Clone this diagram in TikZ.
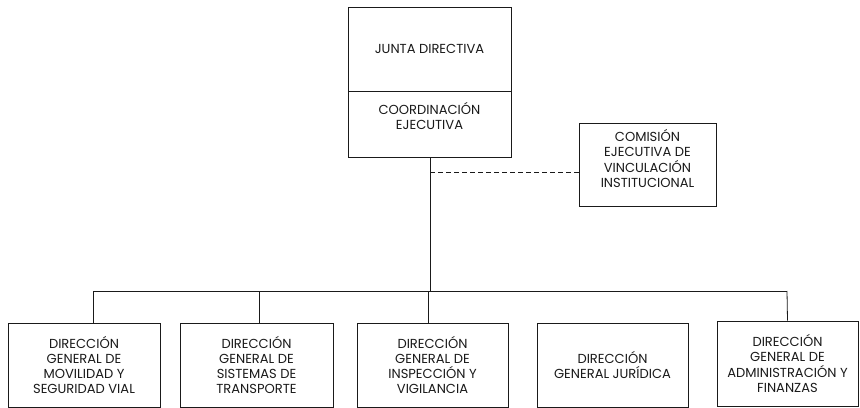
\documentclass[tikz,border=0pt]{standalone}
\usepackage{fontspec}
\setmainfont{Poppins}
\usepackage{tikz}
\usetikzlibrary{calc}
\definecolor{ink}{HTML}{1A1A1A}
\tikzset{
  box/.style={draw=ink, line width=0.7pt, align=center, text=ink,
    font=\fontsize{9.8}{11.4}\selectfont, inner sep=0pt},
  link/.style={draw=ink, line width=0.6pt},
  dlink/.style={draw=ink, line width=0.6pt, dash pattern=on 3.5pt off 2.5pt},
}

\begin{document}
\begin{tikzpicture}[x=0.75pt,y=-0.75pt]
  \useasboundingbox (0,0) rectangle (860,407);

  % top
  \node[box, minimum width=163*0.75pt, minimum height=84*0.75pt] (junta) at (429.5,49) {JUNTA DIRECTIVA};
  \node[box, minimum width=163*0.75pt, minimum height=66*0.75pt, text depth=12pt] (coord) at (429.5,124) {COORDINACIÓN\\EJECUTIVA};
  \node[box, minimum width=137*0.75pt, minimum height=83*0.75pt, text depth=9pt] (comision) at (647.5,164.5)
    {COMISIÓN\\EJECUTIVA DE\\VINCULACIÓN\\INSTITUCIONAL};

  % direcciones
  \node[box, minimum width=152*0.75pt, minimum height=84*0.75pt] (dgmov) at (84,365)
    {DIRECCIÓN\\GENERAL DE\\MOVILIDAD Y\\SEGURIDAD VIAL};
  \node[box, minimum width=153*0.75pt, minimum height=84*0.75pt] (dgsis) at (256.5,365)
    {DIRECCIÓN\\GENERAL DE\\SISTEMAS DE\\TRANSPORTE};
  \node[box, minimum width=151*0.75pt, minimum height=84*0.75pt] (dgins) at (432.5,365)
    {DIRECCIÓN\\GENERAL DE\\INSPECCIÓN Y\\VIGILANCIA};
  \node[box, minimum width=151*0.75pt, minimum height=84*0.75pt] (dgjur) at (612.5,365)
    {DIRECCIÓN\\GENERAL JURÍDICA};
  \node[box, minimum width=141*0.75pt, minimum height=85*0.75pt] (dgadm) at (787.5,363.5)
    {DIRECCIÓN\\GENERAL DE\\ADMINISTRACIÓN Y\\FINANZAS};

  % lines
  \coordinate (trunk) at (430,291);
  \coordinate (dash) at (430,172);
  \coordinate (barL) at (93,291);
  \coordinate (barR) at (787,291);
  \coordinate (drop2) at (259,291);
  \coordinate (drop3) at (428,291);
  \draw[link] (coord.south -| trunk) -- (trunk);
  \draw[dlink] (dash) -- (dash -| comision.west);
  \draw[link] (barL) -- (barR);
  \draw[link] (barL) -- (barL |- dgmov.north);
  \draw[link] (drop2) -- (drop2 |- dgsis.north);
  \draw[link] (drop3) -- (drop3 |- dgins.north);
  \draw[link] (barR) -- (dgadm.north);
\end{tikzpicture}
\end{document}
